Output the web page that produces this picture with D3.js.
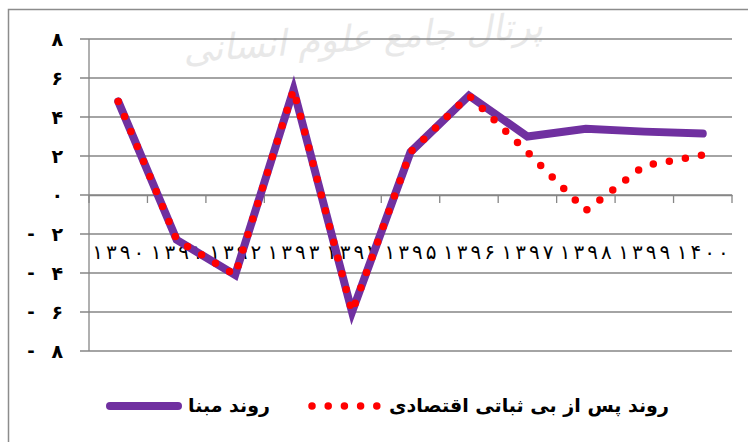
<!DOCTYPE html>
<html>
<head>
<meta charset="utf-8">
<script src="https://cdn.jsdelivr.net/npm/d3@7"></script>
<style>
  body { margin: 0; background: #fff; }
  svg { display: block; font-family: "DejaVu Sans", sans-serif; }
</style>
</head>
<body>
<div id="chart"></div>
<script>
(function () {
  'use strict';

  /* -----------------------------------------------------------
     Data
  ----------------------------------------------------------- */
  var YEARS   = ['۱۳۹۰', '۱۳۹۱', '۱۳۹۲', '۱۳۹۳', '۱۳۹۴', '۱۳۹۵', '۱۳۹۶', '۱۳۹۷', '۱۳۹۸', '۱۳۹۹', '۱۴۰۰'];
  var BASE    = [4.8, -2.3, -4.1, 5.4, -6.0, 2.2, 5.1, 3.0, 3.4, 3.25, 3.15];
  var SHOCK   = [4.8, -2.3, -4.1, 5.4, -6.0, 2.2, 5.1, 2.2, -0.8, 1.5, 2.05];
  var Y_TICKS = [-8, -6, -4, -2, 0, 2, 4, 6, 8];
  var NAMES   = ['روند مبنا', 'روند پس از بی ثباتی اقتصادی'];
  var WATERMARK = 'پرتال جامع علوم انسانی';

  var W = 748, H = 442;
  var PURPLE = '#7030a0', RED = '#ff0000', GRID = '#868686';

  var FA = '۰۱۲۳۴۵۶۷۸۹';
  function toFa(n) {
    return String(n).replace(/[0-9]/g, function (c) { return FA[+c]; });
  }

  var svg = d3.select('#chart').append('svg')
    .attr('width', W).attr('height', H);

  /* Outer chart frame (clipped at right/bottom like the source) */
  svg.append('rect')
    .attr('x', 8.5).attr('y', 9.5)
    .attr('width', 800).attr('height', 500)
    .attr('fill', 'none').attr('stroke', '#8c8c8c').attr('stroke-width', 1.5);

  /* Faint watermark */
  svg.append('text')
    .attr('x', 363).attr('y', 50)
    .attr('text-anchor', 'middle')
    .attr('font-size', 36)
    .attr('font-style', 'italic')
    .attr('fill', '#e8e8e8')
    .attr('transform', 'rotate(-4,363,40)')
    .text(WATERMARK);

  var x = d3.scaleBand().domain(YEARS).range([89, 732]);
  var y = d3.scaleLinear().domain([-8, 8]).range([351, 39]);
  var bw = x.bandwidth();

  /* Gridlines + left tick stubs */
  svg.selectAll('line.grid')
    .data(Y_TICKS)
    .join('line')
    .attr('class', 'grid')
    .attr('x1', 80).attr('x2', 732)
    .attr('y1', function (d) { return y(d); })
    .attr('y2', function (d) { return y(d); })
    .attr('stroke', GRID).attr('stroke-width', 1.3);

  /* Y axis line */
  svg.append('line')
    .attr('x1', 89).attr('x2', 89)
    .attr('y1', y(8)).attr('y2', y(-8))
    .attr('stroke', GRID).attr('stroke-width', 1.3);

  /* Y labels (minus sign sits far left, as in the source) */
  var yl = svg.selectAll('g.ylab')
    .data(Y_TICKS)
    .join('g')
    .attr('class', 'ylab')
    .attr('transform', function (d) { return 'translate(0,' + y(d) + ')'; });
  yl.append('text')
    .attr('x', 63).attr('dy', '0.36em')
    .attr('text-anchor', 'end')
    .attr('font-size', 19).attr('font-weight', 'bold')
    .text(function (d) { return toFa(Math.abs(d)); });
  yl.filter(function (d) { return d < 0; })
    .append('text')
    .attr('x', 31).attr('dy', '0.36em')
    .attr('text-anchor', 'middle')
    .attr('font-size', 18).attr('font-weight', 'bold')
    .text('-');

  /* X axis at zero, ticks between categories */
  var xAxis = d3.axisBottom(x).tickSize(0).tickFormat('');
  var gx = svg.append('g')
    .attr('transform', 'translate(0,' + y(0) + ')')
    .call(xAxis);
  gx.select('.domain').attr('stroke', GRID).attr('stroke-width', 1.3);
  var bounds = YEARS.map(function (d) { return x(d); }).concat([x.range()[1]]);
  gx.selectAll('line.btick')
    .data(bounds)
    .join('line')
    .attr('class', 'btick')
    .attr('x1', function (d) { return d; }).attr('x2', function (d) { return d; })
    .attr('y1', 0).attr('y2', 8)
    .attr('stroke', GRID).attr('stroke-width', 1.3);

  /* X labels sit low, just under the -2 gridline */
  svg.selectAll('text.xlab')
    .data(YEARS)
    .join('text')
    .attr('class', 'xlab')
    .attr('x', function (d) { return x(d) + bw / 2; })
    .attr('y', 259)
    .attr('text-anchor', 'middle')
    .attr('font-size', 20)
    .attr('textLength', 52).attr('lengthAdjust', 'spacing')
    .text(function (d) { return d; });

  /* Series */
  var line = d3.line()
    .x(function (d, i) { return x(YEARS[i]) + bw / 2; })
    .y(function (d) { return y(d); });

  svg.append('path')
    .datum(BASE)
    .attr('d', line)
    .attr('fill', 'none')
    .attr('stroke', PURPLE).attr('stroke-width', 8)
    .attr('stroke-linecap', 'round').attr('stroke-linejoin', 'miter');

  svg.append('path')
    .datum(SHOCK)
    .attr('d', line)
    .attr('fill', 'none')
    .attr('stroke', RED).attr('stroke-width', 7.5)
    .attr('stroke-linecap', 'round')
    .attr('stroke-dasharray', '0 16.3');

  /* Legend */
  var lg = svg.append('g').attr('transform', 'translate(0,406)');
  lg.append('line')
    .attr('x1', 110).attr('x2', 178)
    .attr('stroke', PURPLE).attr('stroke-width', 8).attr('stroke-linecap', 'round');
  lg.append('text')
    .attr('x', 188).attr('dy', '0.32em')
    .attr('font-size', 19).attr('font-weight', 'bold')
    .text(NAMES[0]);
  lg.append('line')
    .attr('x1', 312).attr('x2', 377)
    .attr('stroke', RED).attr('stroke-width', 7.5).attr('stroke-linecap', 'round')
    .attr('stroke-dasharray', '0 16.2');
  lg.append('text')
    .attr('x', 389).attr('dy', '0.32em')
    .attr('font-size', 19).attr('font-weight', 'bold')
    .text(NAMES[1]);
})();
</script>
</body>
</html>
